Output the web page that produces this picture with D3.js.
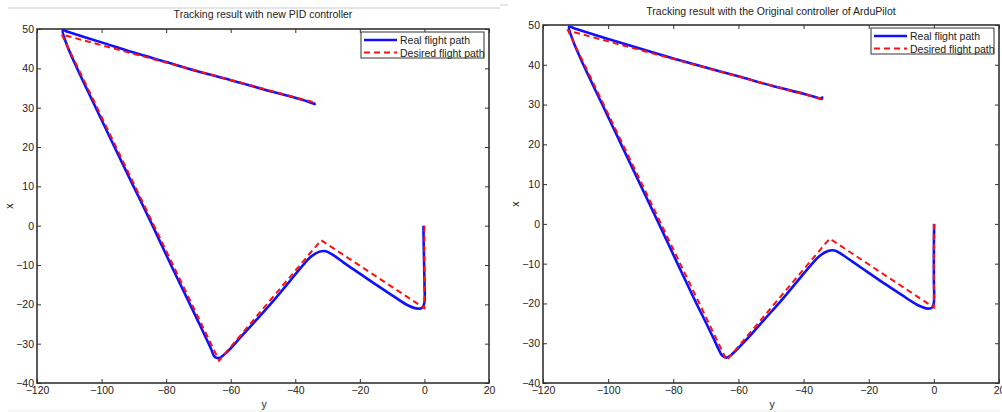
<!DOCTYPE html>
<html>
<head>
<meta charset="utf-8">
<script src="https://cdn.jsdelivr.net/npm/d3@7"></script>
<style>
  body { margin: 0; background: #fff; }
  text { font-family: "Liberation Sans", Arial, sans-serif; }
</style>
</head>
<body>
<script>
var w = 1002;
var h = 412;

// axis ticks (shared by both panels)
var xTicks = [-120, -100, -80, -60, -40, -20, 0, 20];
var yTicks = [-40, -30, -20, -10, 0, 10, 20, 30, 40, 50];

var titles = ["Tracking result with new PID controller",
              "Tracking result with the Original controller of ArduPilot"];
var legendLabels = ["Real flight path", "Desired flight path"];

// desired waypoints [y, x]
var desiredPath = [[0, 0], [0, -21], [-32, -3.7], [-63.6, -34.3], [-112.3, 48.6], [-34, 31.3]];

// real path, new PID controller [y, x]
var realPID = [[-0.3, 0], [-0.2, -6], [0, -14], [0, -19.5], [-0.6, -20.8], [-2, -21.1],
  [-5, -20.3], [-10, -17.7], [-15, -15], [-20, -12.2], [-25, -9.4], [-28, -7.6],
  [-30.5, -6.5], [-32.5, -6.6], [-35, -7.8], [-38, -10.4], [-42, -14.4], [-47, -19.3],
  [-52, -23.9], [-57, -28.4], [-61, -32], [-63.5, -33.6], [-65, -33.3], [-66, -31.5],
  [-67.4, -29], [-69.7, -25], [-72.6, -20], [-78.5, -10], [-84.2, 0], [-90.1, 10],
  [-96, 20], [-101.8, 30], [-107.6, 40], [-111, 46.5], [-112, 49.7], [-110.5, 49.3],
  [-100, 46.6], [-90, 44], [-80, 41.6], [-70, 39.2], [-60, 37], [-50, 34.7], [-40, 32.5],
  [-35.5, 31.4], [-34, 30.9], [-34.3, 31.3]];

// real path, original ArduPilot controller [y, x]
var realOrig = [[0.1, 0], [0, -6], [0, -14], [0, -19.8], [-0.5, -21], [-1.8, -21.3],
  [-5, -20.4], [-10, -17.8], [-15, -15.1], [-20, -12.3], [-25, -9.5], [-28, -7.8],
  [-30.5, -6.7], [-32.5, -6.8], [-35, -8], [-38, -10.6], [-42, -14.5], [-47, -19.4],
  [-52, -24], [-57, -28.6], [-61, -32], [-63.5, -33.6], [-65, -33.1], [-66.2, -31.3],
  [-67.7, -28.7], [-70, -24.8], [-72.9, -20], [-78.7, -10], [-84.4, 0], [-90.2, 10],
  [-96, 20], [-101.8, 30], [-107.6, 40], [-111, 46.5], [-112, 49.6], [-110.5, 49.2],
  [-100, 46.5], [-90, 44], [-80, 41.6], [-70, 39.3], [-60, 37.1], [-50, 34.8], [-40, 32.7],
  [-36, 31.8], [-34.5, 31.4], [-34.3, 31.8], [-34.6, 31.6]];

var panels = [
  { left: 37, right: 489, top: 29, bottom: 383, title: titles[0], real: realPID, titleY: 18, legendTop: 32 },
  { left: 543, right: 999, top: 25, bottom: 383, title: titles[1], real: realOrig, titleY: 15, legendTop: 28 }
];

var svg = d3.select("body")
            .append("svg")
            .attr("width", w)
            .attr("height", h);

// faint page separators
svg.append("line").attr("x1", 8).attr("x2", 500).attr("y1", 8).attr("y2", 8)
   .style("stroke", "#dcdcdc").style("stroke-width", 1.5);
svg.append("line").attr("x1", 500).attr("x2", 508).attr("y1", 5).attr("y2", 5)
   .style("stroke", "#dcdcdc").style("stroke-width", 1.5);
svg.append("line").attr("x1", 8).attr("x2", 1000).attr("y1", 411).attr("y2", 411)
   .style("stroke", "#eeeeee").style("stroke-width", 1);

function drawPanel(p) {
    var x = d3.scaleLinear().domain([-120, 20]).range([p.left, p.right]);
    var y = d3.scaleLinear().domain([-40, 50]).range([p.bottom, p.top]);
    var g = svg.append("g");

    // clip for the lines
    var clipId = "clip" + p.left;
    g.append("clipPath").attr("id", clipId).append("rect")
        .attr("x", p.left).attr("y", p.top)
        .attr("width", p.right - p.left).attr("height", p.bottom - p.top);

    var line = d3.line()
        .x(function(d) { return x(d[0]); })
        .y(function(d) { return y(d[1]); });

    var plot = g.append("g").attr("clip-path", "url(#" + clipId + ")");

    plot.append("path")
        .datum(p.real)
        .attr("d", line.curve(d3.curveCatmullRom.alpha(0.5)))
        .style("fill", "none")
        .style("stroke", "#1010ff")
        .style("stroke-width", 2.6)
        .style("stroke-linejoin", "round");

    plot.append("path")
        .datum(desiredPath)
        .attr("d", line.curve(d3.curveLinear))
        .style("fill", "none")
        .style("stroke", "#ff1010")
        .style("stroke-width", 2)
        .style("stroke-dasharray", "6,4");

    // axes (MATLAB style: ticks inside, box on)
    var axisColor = "#333";
    var xBottom = d3.axisBottom(x).tickValues(xTicks).tickSizeInner(-4).tickSizeOuter(0).tickPadding(4);
    var xTop = d3.axisTop(x).tickValues(xTicks).tickSizeInner(-4).tickSizeOuter(0).tickFormat("");
    var yLeft = d3.axisLeft(y).tickValues(yTicks).tickSizeInner(-4).tickSizeOuter(0).tickPadding(3);
    var yRight = d3.axisRight(y).tickValues(yTicks).tickSizeInner(-4).tickSizeOuter(0).tickFormat("");

    [[xBottom, "translate(0," + p.bottom + ")"], [xTop, "translate(0," + p.top + ")"],
     [yLeft, "translate(" + p.left + ",0)"], [yRight, "translate(" + p.right + ",0)"]].forEach(function(a) {
        var ax = g.append("g").attr("transform", a[1]).call(a[0]);
        ax.select(".domain").remove();
        ax.selectAll("line").style("stroke", axisColor).style("stroke-width", 1);
        ax.selectAll("text").style("fill", "#222").style("font-size", "10.5px");
    });

    g.append("rect")
        .attr("x", p.left).attr("y", p.top)
        .attr("width", p.right - p.left).attr("height", p.bottom - p.top)
        .style("fill", "none").style("stroke", axisColor).style("stroke-width", 1.6);

    // titles and labels
    g.append("text")
        .attr("x", (p.left + p.right) / 2).attr("y", p.titleY)
        .attr("text-anchor", "middle")
        .style("font-size", "10.5px").style("fill", "#222")
        .text(p.title);

    g.append("text")
        .attr("x", (p.left + p.right) / 2 + 1).attr("y", 408)
        .attr("text-anchor", "middle")
        .style("font-size", "10.5px").style("fill", "#222")
        .text("y");

    g.append("text")
        .attr("transform", "translate(" + (p.left - 24) + "," + ((p.top + p.bottom) / 2) + ") rotate(-90)")
        .attr("text-anchor", "middle")
        .style("font-size", "10.5px").style("fill", "#222")
        .text("x");

    // legend
    var lg = g.append("g");
    var lx = p.right - 128;
    lg.append("rect")
        .attr("x", lx).attr("y", p.legendTop)
        .attr("width", 123).attr("height", 26)
        .style("fill", "#fff").style("stroke", axisColor).style("stroke-width", 1);
    var styles = [{ c: "#1010ff", dash: null, sw: 2.6 }, { c: "#ff1010", dash: "6,4", sw: 2 }];
    legendLabels.forEach(function(lab, i) {
        var ly = p.legendTop + 8 + i * 12.5;
        lg.append("line")
            .attr("x1", lx + 3).attr("x2", lx + 36)
            .attr("y1", ly).attr("y2", ly)
            .style("stroke", styles[i].c).style("stroke-width", styles[i].sw)
            .style("stroke-dasharray", styles[i].dash);
        lg.append("text")
            .attr("x", lx + 39).attr("y", ly + 4)
            .style("font-size", "10.5px").style("fill", "#222")
            .text(lab);
    });
}

panels.forEach(drawPanel);
</script>
</body>
</html>
